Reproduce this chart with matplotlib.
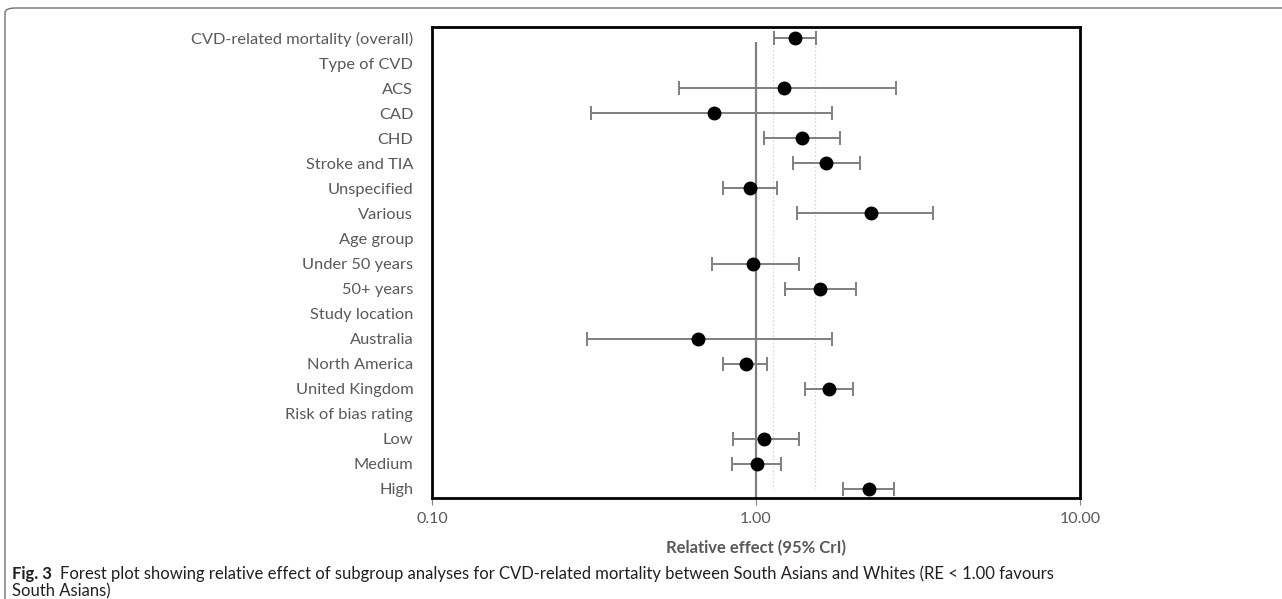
import numpy as np
import matplotlib.pyplot as plt
from matplotlib.patches import FancyBboxPatch

labels = ['CVD-related mortality (overall)', 'Type of CVD', 'ACS', 'CAD', 'CHD',
          'Stroke and TIA', 'Unspecified', 'Various', 'Age group', 'Under 50 years',
          '50+ years', 'Study location', 'Australia', 'North America',
          'United Kingdom', 'Risk of bias rating', 'Low', 'Medium', 'High']
# nan = heading row without an estimate
est = [1.32, np.nan, 1.22, 0.74, 1.39, 1.64, 0.96, 2.26, np.nan, 0.98,
       1.58, np.nan, 0.66, 0.93, 1.68, np.nan, 1.06, 1.01, 2.23]
lo = [1.14, np.nan, 0.58, 0.31, 1.06, 1.30, 0.79, 1.34, np.nan, 0.73,
      1.23, np.nan, 0.30, 0.79, 1.42, np.nan, 0.85, 0.84, 1.86]
hi = [1.53, np.nan, 2.70, 1.72, 1.81, 2.10, 1.16, 3.51, np.nan, 1.36,
      2.04, np.nan, 1.72, 1.08, 1.99, np.nan, 1.36, 1.19, 2.66]
overall_cri = [1.13, 1.52]
xticks = [0.1, 1, 10]
xticklabels = ['0.10', '1.00', '10.00']

est = np.array(est)
lo = np.array(lo)
hi = np.array(hi)
rows = np.arange(len(labels))
ok = ~np.isnan(est)

txt = '#595959'
plt.rcParams['font.family'] = ['Lato', 'DejaVu Sans']

fig = plt.figure(figsize=(12.82, 5.99), dpi=100)
ax = fig.add_axes([0.337, 0.1686, 0.5055, 0.7863])

ax.set_xscale('log')
ax.set_xlim(0.1, 10)
ax.set_ylim(18.36, -0.44)

ax.vlines(overall_cri, -0.44, 18.0, colors='#d9d9d9', linestyles=(0, (1.5, 1.5)), lw=0.9, zorder=1)
ax.vlines(1.0, 0.15, 18.36, colors='#808080', lw=1.6, zorder=2)

ax.errorbar(est[ok], rows[ok], xerr=[est[ok] - lo[ok], hi[ok] - est[ok]],
            fmt='o', color='black', markersize=9, ecolor='#7f7f7f',
            elinewidth=1.4, capsize=5, capthick=1.4, zorder=3)

ax.set_yticks(rows)
ax.set_yticklabels(labels, fontsize=11.75, color=txt)
ax.tick_params(axis='y', length=0, pad=13.5)
ax.set_xticks(xticks)
ax.set_xticklabels(xticklabels, fontsize=11.5, color=txt)
ax.minorticks_off()
ax.tick_params(axis='x', length=5, color='#808080', pad=5)
ax.set_xlabel('Relative effect (95% CrI)', fontsize=12, color=txt, fontweight='bold', labelpad=10)
for s in ax.spines.values():
    s.set_linewidth(2)
    s.set_color('black')

# caption
y1 = 1 - 574 / 599
y2 = 1 - 591 / 599
fs = 12
fig.text(12 / 1282, y1, 'Fig. 3', fontsize=fs, fontweight='bold', va='center', color='#231f20')
fig.text(60 / 1282, y1,
         'Forest plot showing relative effect of subgroup analyses for CVD-related mortality '
         'between South Asians and Whites (RE < 1.00 favours',
         fontsize=fs, va='center', color='#231f20')
fig.text(12 / 1282, y2, 'South Asians)', fontsize=fs, va='center', color='#231f20')

box = FancyBboxPatch((5 / 1282, -0.05), 1.2, 1.05 - 8 / 599,
                     boxstyle='round,pad=0,rounding_size=0.008',
                     transform=fig.transFigure, fill=False, ec='#707070', lw=1.0, clip_on=False)
fig.patches.append(box)

fig.savefig('out.png', dpi=100)
